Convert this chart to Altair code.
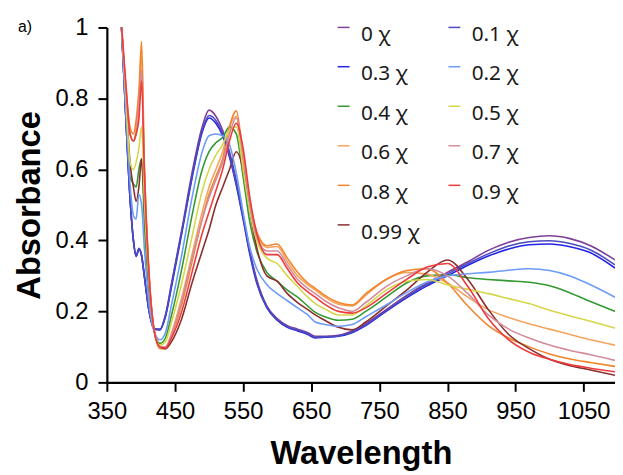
import altair as alt
import pandas as pd

wavelength = [371, 378, 384, 389, 393, 397, 401, 405, 412, 420, 428, 436, 445, 460, 475, 490,
              500, 510, 520, 530, 540, 550, 560, 570, 585, 600, 615, 630, 645, 656, 670, 690,
              710, 730, 760, 790, 820, 850, 880, 910, 940, 970, 1000, 1030, 1060, 1096]

abs_0 = [1.02, 0.74, 0.52, 0.40, 0.355, 0.378, 0.36, 0.30, 0.20, 0.15, 0.15, 0.19, 0.28, 0.43, 0.59, 0.72,
         0.767, 0.75, 0.71, 0.65, 0.57, 0.47, 0.37, 0.29, 0.215, 0.18, 0.16, 0.15, 0.14, 0.13, 0.13, 0.133,
         0.145, 0.165, 0.205, 0.245, 0.28, 0.31, 0.34, 0.372, 0.395, 0.408, 0.413, 0.405, 0.385, 0.345]
abs_01 = [1.02, 0.74, 0.52, 0.40, 0.356, 0.376, 0.357, 0.30, 0.20, 0.15, 0.149, 0.187, 0.275, 0.425, 0.58, 0.71,
          0.752, 0.738, 0.70, 0.64, 0.56, 0.465, 0.365, 0.285, 0.212, 0.177, 0.157, 0.147, 0.137, 0.127, 0.128, 0.131,
          0.142, 0.162, 0.202, 0.241, 0.276, 0.305, 0.335, 0.362, 0.384, 0.396, 0.399, 0.391, 0.373, 0.331]
abs_03 = [1.02, 0.74, 0.52, 0.40, 0.355, 0.375, 0.355, 0.30, 0.20, 0.15, 0.148, 0.185, 0.27, 0.42, 0.575, 0.705,
          0.745, 0.73, 0.695, 0.635, 0.555, 0.46, 0.36, 0.28, 0.21, 0.175, 0.155, 0.145, 0.135, 0.125, 0.127, 0.13,
          0.14, 0.16, 0.2, 0.238, 0.272, 0.30, 0.33, 0.356, 0.376, 0.388, 0.39, 0.382, 0.365, 0.322]
abs_02 = [1.02, 0.76, 0.56, 0.47, 0.46, 0.53, 0.50, 0.38, 0.22, 0.14, 0.12, 0.14, 0.22, 0.36, 0.52, 0.65,
          0.695, 0.70, 0.695, 0.67, 0.59, 0.48, 0.38, 0.32, 0.275, 0.25, 0.23, 0.21, 0.19, 0.17, 0.163, 0.158,
          0.163, 0.185, 0.218, 0.253, 0.283, 0.30, 0.306, 0.31, 0.316, 0.32, 0.315, 0.30, 0.275, 0.24]
abs_04 = [1.02, 0.78, 0.58, 0.56, 0.55, 0.60, 0.63, 0.45, 0.25, 0.14, 0.11, 0.125, 0.19, 0.32, 0.47, 0.60,
          0.65, 0.675, 0.69, 0.72, 0.70, 0.58, 0.45, 0.37, 0.31, 0.285, 0.26, 0.24, 0.215, 0.197, 0.185, 0.175,
          0.178, 0.2, 0.24, 0.28, 0.30, 0.303, 0.295, 0.29, 0.286, 0.282, 0.272, 0.252, 0.228, 0.2]
abs_05 = [1.02, 0.80, 0.62, 0.60, 0.62, 0.66, 0.72, 0.52, 0.28, 0.14, 0.105, 0.115, 0.17, 0.28, 0.41, 0.54,
          0.60, 0.64, 0.67, 0.71, 0.72, 0.60, 0.48, 0.40, 0.35, 0.335, 0.30, 0.27, 0.24, 0.222, 0.207, 0.19,
          0.19, 0.215, 0.26, 0.285, 0.29, 0.275, 0.262, 0.25, 0.236, 0.222, 0.203, 0.187, 0.172, 0.153]
abs_06 = [1.02, 0.82, 0.70, 0.68, 0.72, 0.80, 0.92, 0.60, 0.30, 0.14, 0.10, 0.10, 0.14, 0.24, 0.36, 0.48,
          0.55, 0.60, 0.65, 0.72, 0.75, 0.62, 0.50, 0.42, 0.38, 0.383, 0.34, 0.30, 0.275, 0.26, 0.24, 0.22,
          0.215, 0.245, 0.29, 0.31, 0.305, 0.28, 0.24, 0.205, 0.183, 0.165, 0.15, 0.135, 0.12, 0.105]
abs_07 = [1.02, 0.82, 0.70, 0.68, 0.70, 0.78, 0.88, 0.58, 0.30, 0.14, 0.10, 0.10, 0.135, 0.23, 0.35, 0.46,
          0.52, 0.57, 0.62, 0.70, 0.745, 0.64, 0.50, 0.41, 0.37, 0.37, 0.33, 0.29, 0.265, 0.25, 0.23, 0.21,
          0.20, 0.225, 0.27, 0.30, 0.32, 0.30, 0.25, 0.19, 0.15, 0.125, 0.105, 0.09, 0.078, 0.062]
abs_08 = [1.02, 0.83, 0.72, 0.70, 0.74, 0.82, 0.96, 0.62, 0.31, 0.14, 0.095, 0.095, 0.13, 0.22, 0.34, 0.46,
          0.53, 0.58, 0.63, 0.72, 0.765, 0.64, 0.51, 0.425, 0.385, 0.39, 0.35, 0.31, 0.28, 0.265, 0.245, 0.225,
          0.218, 0.25, 0.29, 0.315, 0.32, 0.28, 0.215, 0.16, 0.125, 0.1, 0.08, 0.066, 0.056, 0.045]
abs_09 = [1.02, 0.84, 0.70, 0.68, 0.70, 0.74, 0.85, 0.60, 0.30, 0.14, 0.10, 0.097, 0.125, 0.20, 0.31, 0.42,
          0.48, 0.54, 0.60, 0.68, 0.73, 0.66, 0.52, 0.42, 0.36, 0.36, 0.32, 0.28, 0.255, 0.24, 0.22, 0.20,
          0.195, 0.21, 0.25, 0.29, 0.325, 0.335, 0.27, 0.18, 0.12, 0.085, 0.065, 0.05, 0.04, 0.03]
abs_099 = [1.02, 0.80, 0.62, 0.55, 0.51, 0.55, 0.63, 0.50, 0.28, 0.14, 0.10, 0.095, 0.115, 0.18, 0.28, 0.37,
           0.43, 0.50, 0.55, 0.60, 0.65, 0.60, 0.48, 0.38, 0.30, 0.285, 0.25, 0.225, 0.205, 0.19, 0.175, 0.155,
           0.148, 0.17, 0.215, 0.26, 0.31, 0.345, 0.29, 0.205, 0.135, 0.095, 0.065, 0.047, 0.035, 0.02]

# legend is filled column by column: first column, then second column
labels = ["0 χ", "0.3 χ", "0.4 χ", "0.6 χ", "0.8 χ", "0.99 χ",
          "0.1 χ", "0.2 χ", "0.5 χ", "0.7 χ", "0.9 χ"]
colors = ["#7F3F98", "#2323E6", "#339933", "#F5A45E", "#F2852C", "#8B2E2E",
          "#4B4BC0", "#6C9CF7", "#D6D64A", "#D48C9C", "#EE3B3B"]
series = [abs_0, abs_03, abs_04, abs_06, abs_08, abs_099, abs_01, abs_02, abs_05, abs_07, abs_09]

x_ticks = [350, 450, 550, 650, 750, 850, 950, 1050]
y_ticks = [0, 0.2, 0.4, 0.6, 0.8, 1]

rows = []
for lab, vals in zip(labels, series):
    for w, v in zip(wavelength, vals):
        rows.append({"Wavelength": w, "Absorbance": v, "Sample": lab})
df = pd.DataFrame(rows)

chart = alt.Chart(df).mark_line(strokeWidth=1.6, interpolate="monotone", clip=True).encode(
    x=alt.X("Wavelength:Q",
            scale=alt.Scale(domain=[350, 1096], nice=False, zero=False),
            axis=alt.Axis(values=x_ticks, format="d", title="Wavelength", labelPadding=9,
                          titlePadding=14, labelFlush=False)),
    y=alt.Y("Absorbance:Q",
            scale=alt.Scale(domain=[0, 1], nice=False),
            axis=alt.Axis(values=y_ticks, format="~g", title="Absorbance", labelPadding=10,
                          titlePadding=9)),
    color=alt.Color("Sample:N", sort=labels,
                    scale=alt.Scale(domain=labels, range=colors),
                    legend=alt.Legend(title=None, orient="none", legendX=229, legendY=-3,
                                      columns=2, symbolType="M-1,-1.3H1", symbolSize=144,
                                      symbolStrokeWidth=1.5, labelFont="Noto Sans",
                                      labelFontSize=21, labelColor="#1a1a1a", labelOffset=7,
                                      rowPadding=18, columnPadding=24, padding=0)),
).properties(
    width=514, height=359,
    autosize=alt.AutoSizeParams(type="none"),
    padding={"left": 100, "top": 17, "right": 0, "bottom": 90},
    title=alt.TitleParams("a)", anchor="start", frame="group", dx=-90, dy=20, fontSize=16,
                          fontWeight="normal", font="Liberation Sans", color="black", offset=0,
                          align="left"),
).configure_view(strokeWidth=0).configure_axis(
    grid=False, domainColor="black", domainWidth=2.2, tickColor="black", tickWidth=2,
    tickSize=9, labelFont="Liberation Sans", labelFontSize=24, labelColor="black",
    titleFont="Liberation Sans", titleFontSize=33, titleFontWeight="bold", titleColor="black",
)

chart.save("out.html", embed_options={"renderer": "svg", "actions": False})
